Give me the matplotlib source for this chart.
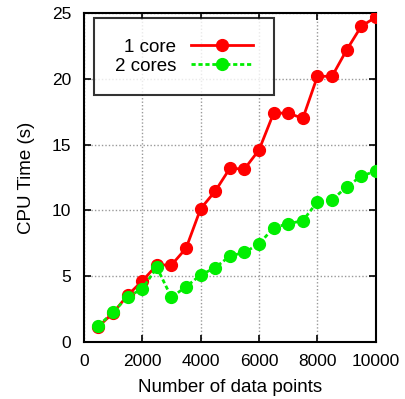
import matplotlib
matplotlib.use('Agg')
import matplotlib.pyplot as plt

plt.rcParams['font.family'] = ['Liberation Sans', 'DejaVu Sans']

# datos
n_points = [500, 1000, 1500, 2000, 2500, 3000, 3500, 4000, 4500, 5000,
            5500, 6000, 6500, 7000, 7500, 8000, 8500, 9000, 9500, 10000]
one_core = [1.17, 2.2, 3.55, 4.63, 5.85, 5.85, 7.12, 10.13, 11.47, 13.2,
            13.15, 14.6, 17.4, 17.4, 17.0, 20.2, 20.2, 22.2, 24.0, 24.7]
two_cores = [1.24, 2.25, 3.44, 4.03, 5.67, 3.39, 4.2, 5.09, 5.65, 6.53,
             6.81, 7.45, 8.69, 8.99, 9.22, 10.66, 10.79, 11.8, 12.6, 13.0]

fig = plt.figure(figsize=(4.05, 3.99), dpi=100)
ax = fig.add_axes([0.207, 0.143, 0.721, 0.824])

ax.plot(n_points, one_core, color='#ff0000', linewidth=2, marker='o',
        markersize=8.5, label='1 core', zorder=3)
ax.plot(n_points, two_cores, color='#00ee00', linewidth=2, marker='o',
        markersize=8.5, dashes=(1.5, 1), label='2 cores', zorder=4)

ax.set_xlim(0, 10000)
ax.set_ylim(0, 25)
ax.set_xticks([0, 2000, 4000, 6000, 8000, 10000])
ax.set_yticks([0, 5, 10, 15, 20, 25])
ax.grid(True, color='#999999', linestyle=(0, (1, 1.5)), linewidth=1)
ax.tick_params(direction='in', top=True, right=True, length=5, width=1.2,
               labelsize=12.5, pad=9)
for s in ax.spines.values():
    s.set_linewidth(1.5)

ax.set_xlabel('Number of data points', fontsize=13.5, labelpad=7)
ax.set_ylabel('CPU Time (s)', fontsize=13.5, labelpad=12)

leg = ax.legend(loc='upper left', bbox_to_anchor=(0.035, 0.985), markerfirst=False,
                fancybox=False, edgecolor='black', fontsize=13.5, handlelength=3.3,
                borderpad=1.1, labelspacing=0.1, handletextpad=0.8,
                borderaxespad=0)
leg.get_frame().set_linewidth(1.5)

fig.savefig('out.png', dpi=100)
